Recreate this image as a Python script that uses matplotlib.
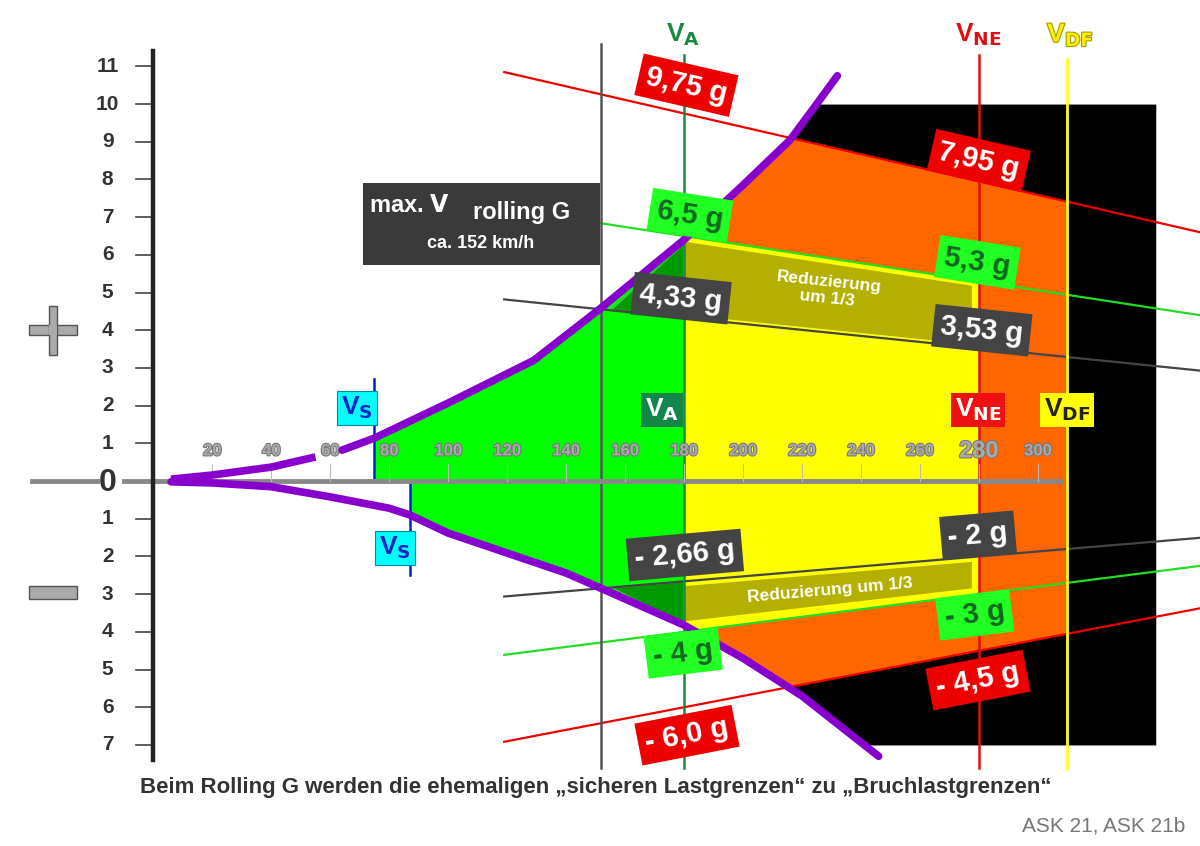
import numpy as np
import matplotlib.pyplot as plt
import matplotlib.patheffects as pe
from matplotlib.patches import Rectangle, Polygon

plt.rcParams['font.family'] = ['Liberation Sans', 'DejaVu Sans']

# upper limit curve (stall, positive g)
up_x = [6, 20, 40, 55, 64, 75, 100, 129, 152, 180, 200, 216, 225, 232]
up_y = [0.05, 0.16, 0.37, 0.64, 0.82, 1.14, 2.07, 3.2, 4.6, 6.4, 7.85, 9.05, 10.0, 10.75]
# lower limit curve (negative g)
lo_x = [6, 20, 40, 60, 80, 87, 100, 120, 140, 152, 180, 200, 220, 246]
lo_y = [-0.02, -0.05, -0.15, -0.42, -0.72, -0.9, -1.38, -1.91, -2.44, -2.85, -3.82, -4.7, -5.7, -7.3]

# load-factor lines: value at VA (180) and VNE (280)
lines = {
    'red_up': (9.75, 7.95), 'green_up': (6.5, 5.3), 'gray_up': (4.33, 3.53),
    'gray_lo': (-2.66, -2.0), 'green_lo': (-4.0, -3.0), 'red_lo': (-6.0, -4.5),
}
line_x = [119, 355]
v_s_up, v_s_lo = 75, 87
v_roll, v_a, v_ne, v_df = 152, 180, 280, 310
speed_ticks = [20, 40, 60, 80, 100, 120, 140, 160, 180, 200, 220, 240, 260, 280, 300]
g_ticks_pos = list(range(1, 12))
g_ticks_neg = list(range(1, 8))


def gline(key, x):
    a, b = lines[key]
    x = np.asarray(x, dtype=float)
    return a + (b - a) * (x - 180) / 100


fig = plt.figure(figsize=(12, 8.46), dpi=100)
ax = fig.add_axes([0, 0, 1, 1])
ax.set_xlim(-52, 355)
ax.set_ylim(-9.68, 12.76)
ax.axis('off')

grid = np.linspace(6, 340, 1500)
up = np.interp(grid, up_x, up_y, right=10.0)
lo = np.interp(grid, lo_x, lo_y, right=-7.0)

# black zone beyond the curves
m = grid >= 200
ax.fill_between(grid[m], np.maximum(lo[m], -7), np.minimum(up[m], 10), color='black', lw=0, zorder=1)
# orange zone
m = (grid >= v_a) & (grid <= v_df)
ax.fill_between(grid[m], np.maximum(lo[m], gline('red_lo', grid[m])),
                np.minimum(up[m], gline('red_up', grid[m])), color='#ff6600', lw=0, zorder=2)
# green zone
m = (grid >= v_s_up) & (grid <= v_a)
ax.fill_between(grid[m], np.where(grid[m] >= v_s_lo, lo[m], 0), up[m], color='#00ff00', lw=0, zorder=2)
# yellow zone
m = (grid >= v_a) & (grid <= v_ne)
ax.fill_between(grid[m], gline('green_lo', grid[m]), gline('green_up', grid[m]), color='#ffff00', lw=0, zorder=3)

# reduced bands (olive) and dark green triangles
xr = np.array([v_a, 278])
ax.add_patch(Polygon([(180, 6.38), (278, gline('green_up', 278) - 0.12),
                      (278, gline('gray_up', 278) + 0.05), (180, gline('gray_up', 180) + 0.05)],
                     closed=True, fc='#b5b000', ec='#ffff00', lw=1.5, zorder=4))
ax.add_patch(Polygon([(180, gline('gray_lo', 180) - 0.1), (278, gline('gray_lo', 278) - 0.1),
                      (278, gline('green_lo', 278) + 0.15), (180, -3.75)],
                     closed=True, fc='#b5b000', ec='#ffff00', lw=1.5, zorder=4))
ax.add_patch(Polygon([(155, gline('gray_up', 155)), (180, 6.3), (180, gline('gray_up', 180))],
                     closed=True, fc='#009900', ec='#33cc33', lw=1.5, zorder=4))
ax.add_patch(Polygon([(155, gline('gray_lo', 155)), (180, gline('gray_lo', 180)), (180, -3.8)],
                     closed=True, fc='#009900', ec='#33cc33', lw=1.5, zorder=4))

# g lines
colors = {'red_up': '#ee0000', 'green_up': '#22dd22', 'gray_up': '#444444',
          'gray_lo': '#444444', 'green_lo': '#22dd22', 'red_lo': '#ee0000'}
for k, c in colors.items():
    ax.plot(line_x, gline(k, line_x), color=c, lw=1.6, zorder=5)

# vertical speed lines
ax.plot([v_roll, v_roll], [-7.6, 11.6], color='#555555', lw=1.8, zorder=5)
ax.plot([v_a, v_a], [-7.6, 11.3], color='#1a8a3a', lw=1.8, zorder=5)
ax.plot([v_ne, v_ne], [-7.6, 11.3], color='#dd1111', lw=1.8, zorder=5)
ax.plot([v_df, v_df], [-7.6, 11.2], color='#ffff22', lw=2, zorder=5)
ax.plot([v_s_up, v_s_up], [0, 2.7], color='#0022cc', lw=1.8, zorder=5)
ax.plot([v_s_lo, v_s_lo], [0, -2.5], color='#0022cc', lw=1.8, zorder=5)

# axes
ax.plot([-41, -19], [0, 0], color='#888888', lw=3.5, zorder=6)
ax.plot([-10, 308], [0, 0], color='#888888', lw=3.5, zorder=6)
ax.plot([0, 0], [-7.4, 11.4], color='#222222', lw=3.2, zorder=7)
for g in g_ticks_pos:
    ax.plot([-6, 0], [g, g], color='#444444', lw=1.2, zorder=6)
    ax.text(-15.5, g, str(g), ha='center', va='center', fontsize=15, fontweight='bold', color='#333333')
for g in g_ticks_neg:
    ax.plot([-6, 0], [-g, -g], color='#444444', lw=1.2, zorder=6)
    ax.text(-15.5, -g, str(g), ha='center', va='center', fontsize=15, fontweight='bold', color='#333333')
ax.text(-15.5, -0.05, '0', ha='center', va='center', fontsize=23, fontweight='bold', color='#333333')

outline = [pe.withStroke(linewidth=1.5, foreground='#777777')]
for s in speed_ticks:
    ax.plot([s, s], [0, 0.45], color='#bbbbbb', lw=0.8, zorder=6)
    big = s == 280
    ax.text(s, 0.8, str(s), ha='center', va='center', fontsize=17 if big else 12,
            fontweight='bold', color='#aaaaaa', path_effects=outline, zorder=8)

# purple limit curves
ax.plot(up_x[:4], up_y[:4], color='#8800cc', lw=5.5, solid_capstyle='butt', zorder=9)
ax.plot(up_x[4:], up_y[4:], color='#8800cc', lw=5.5, solid_capstyle='round', zorder=9)
ax.plot(lo_x, lo_y, color='#8800cc', lw=5.5, solid_capstyle='round', zorder=9)

# plus / minus signs
ax.add_patch(Rectangle((-42.3, 3.87), 16.5, 0.27, fc='#aaaaaa', ec='#555555', lw=1, zorder=8))
ax.add_patch(Rectangle((-35.5, 3.35), 2.9, 1.3, fc='#aaaaaa', ec='#555555', lw=1, zorder=8))
ax.add_patch(Rectangle((-42.3, -3.12), 16.5, 0.33, fc='#aaaaaa', ec='#555555', lw=1, zorder=8))
ax.add_patch(Rectangle((-35.3, 3.88), 2.5, 0.25, fc='#aaaaaa', lw=0, zorder=9))


def box(x, y, s, fc, tc, rot=0, fs=21, pad=0.25):
    ax.text(x, y, s, ha='center', va='center', rotation=rot, rotation_mode='anchor',
            fontsize=fs, fontweight='bold', color=tc, zorder=12,
            bbox=dict(boxstyle='square,pad=%s' % pad, fc=fc, ec='none'))


box(180.8, 10.5, '9,75 g', '#ee0000', 'white', -13)
box(280, 8.5, '7,95 g', '#ee0000', 'white', -13)
box(182, 7.05, '6,5 g', '#22ff22', '#116622', -9)
box(279.5, 5.8, '5,3 g', '#22ff22', '#116622', -9)
box(179, 4.85, '4,33 g', '#444444', 'white', -6)
box(281, 4.0, '3,53 g', '#444444', 'white', -6)
ax.text(228.8, 5.07, 'Reduzierung\num 1/3', ha='center', va='center', rotation=-6, rotation_mode='anchor',
        fontsize=12.5, fontweight='bold', color='white', zorder=12, linespacing=1.1)
box(180.3, -1.96, '- 2,66 g', '#444444', 'white', 5)
box(279.7, -1.43, '- 2 g', '#444444', 'white', 5)
ax.text(229.5, -2.89, 'Reduzierung um 1/3', ha='center', va='center', rotation=5, rotation_mode='anchor',
        fontsize=12.5, fontweight='bold', color='white', zorder=12)
box(278.6, -3.55, '- 3 g', '#22ff22', '#116622', 7)
box(179.7, -4.56, '- 4 g', '#22ff22', '#116622', 7)
box(279.7, -5.28, '- 4,5 g', '#ee0000', 'white', 11)
box(181, -6.74, '- 6,0 g', '#ee0000', 'white', 11)

# max V rolling G box
ax.add_patch(Rectangle((71, 5.73), 80.5, 2.17, fc='#3a3a3a', ec='none', zorder=11))
ax.text(73, 7.3, 'max. $\\mathbf{V}$', ha='left', va='center', fontsize=17, fontweight='bold',
        color='white', zorder=12)
ax.text(107, 7.38, 'V', ha='left', va='center', fontsize=26, fontweight='bold', color='white', zorder=12, alpha=0)
ax.text(108.5, 7.12, 'rolling G', ha='left', va='center', fontsize=17, fontweight='bold', color='white', zorder=12)
ax.text(111, 6.3, 'ca. 152 km/h', ha='center', va='center', fontsize=13, fontweight='bold', color='white', zorder=12)


def vlabel(x, y, sub, fc, tc, ec='none', fs=19):
    t = ax.text(x, y, 'V$_{\\mathbf{%s}}$' % sub, ha='center', va='center', fontsize=fs,
                fontweight='bold', color=tc, zorder=12,
                bbox=None if fc is None else dict(boxstyle='square,pad=0.15', fc=fc, ec=ec, lw=0.8))
    return t


vlabel(69, 1.94, 'S', '#00ffff', '#1122cc', ec='#0088aa')
vlabel(82, -1.78, 'S', '#00ffff', '#1122cc', ec='#0088aa')
vlabel(172.5, 1.88, 'A', '#11884a', 'white')
vlabel(279.7, 1.88, 'NE', '#ee1111', 'white')
vlabel(310, 1.88, 'DF', '#ffff00', '#222222')
vlabel(179.7, 11.83, 'A', None, '#1a8a3a')
vlabel(279.7, 11.83, 'NE', None, '#dd1111')
t = vlabel(311, 11.83, 'DF', None, '#ffee00')
t.set_path_effects([pe.withStroke(linewidth=1.5, foreground='#999900')])

ax.text(150, -8.14, 'Beim Rolling G werden die ehemaligen \u201esicheren Lastgrenzen\u201c zu \u201eBruchlastgrenzen\u201c',
        ha='center', va='center', fontsize=16, fontweight='bold', color='#333333')
ax.text(350, -9.15, 'ASK 21, ASK 21b', ha='right', va='center', fontsize=15, color='#777777')

fig.savefig('out.png', dpi=100)
